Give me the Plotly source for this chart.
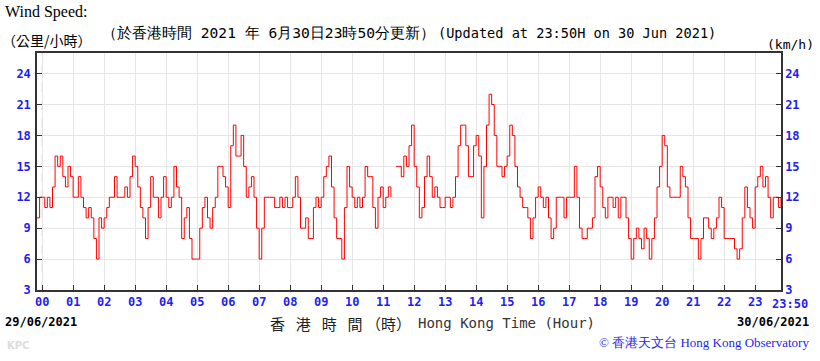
import plotly.graph_objects as go

# 5-minute readings (km/h) from 23:50 (previous day) to 23:50
pre = [10, 12]
h00 = [12, 11, 12, 11, 13, 16, 15, 16, 14, 13, 15, 14]
h01 = [12, 12, 14, 12, 11, 10, 11, 10, 8, 6, 10, 9]
h02 = [10, 11, 12, 12, 14, 12, 12, 12, 13, 12, 14, 16]
h03 = [15, 13, 11, 10, 8, 11, 14, 12, 12, 10, 12, 14]
h04 = [12, 11, 12, 15, 13, 12, 8, 10, 11, 8, 6, 6]
h05 = [6, 9, 11, 12, 10, 9, 11, 12, 15, 15, 14, 13]
h06 = [11, 17, 19, 16, 16, 18, 15, 12, 13, 14, 12, 9]
h07 = [6, 9, 12, 12, 12, 12, 11, 11, 12, 11, 12, 11]
h08 = [11, 12, 14, 12, 9, 9, 10, 8, 8, 11, 12, 11]
h09 = [12, 14, 15, 16, 13, 10, 8, 8, 6, 11, 15, 13]
h10 = [12, 11, 12, 11, 12, 15, 14, 14, 11, 9, 12, 13]
h11 = [11, 12, 13, 12, None, 15, 15, 14, 16, 15, 17, 19]
h12 = [15, 13, 10, 11, 14, 16, 14, 12, 13, 12, 11, 11]
h13 = [12, 12, 11, 12, 14, 17, 19, 19, 17, 14, 14, 17]
h14 = [18, 16, 10, 15, 19, 22, 21, 18, 15, 15, 14, 15]
h15 = [16, 19, 18, 15, 13, 12, 11, 11, 10, 8, 10, 12]
h16 = [13, 12, 11, 12, 10, 8, 9, 12, 12, 12, 10, 12]
h17 = [12, 12, 15, 12, 9, 8, 8, 9, 9, 10, 14, 15]
h18 = [13, 11, 10, 12, 12, 11, 12, 10, 12, 12, 10, 8]
h19 = [6, 8, 9, 8, 7, 9, 8, 6, 8, 10, 13, 15]
h20 = [18, 17, 13, 12, 12, 12, 12, 15, 14, 13, 10, 8]
h21 = [8, 8, 6, 8, 10, 10, 9, 8, 9, 10, 12, 11]
h22 = [8, 8, 8, 8, 7, 6, 7, 10, 13, 11, 10, 9]
h23 = [13, 14, 15, 13, 14, 12, 10, 12, 12, 11, 12]

wind = (pre + h00 + h01 + h02 + h03 + h04 + h05 + h06 + h07 + h08 + h09 + h10 + h11
        + h12 + h13 + h14 + h15 + h16 + h17 + h18 + h19 + h20 + h21 + h22 + h23)
minutes = list(range(-10, 1431, 5))  # minutes after 00:00

hour_ticks = list(range(0, 1440, 60))
hour_labels = ["%02d" % h for h in range(24)]
y_ticks = [3, 6, 9, 12, 15, 18, 21, 24]

W, H = 820, 361
L, R, T, B = 37, 39, 53, 71
pw, ph = W - L - R, H - T - B

def px(x):
    return (x - L) / pw

def py(y):
    return (H - B - y) / ph

BLUE = "#1f1fee"
fig = go.Figure()
fig.add_trace(go.Scatter(x=minutes, y=wind, mode="lines", line=dict(color="#ff0000", width=1, shape="hv"),
                         connectgaps=False, hoverinfo="skip", showlegend=False))
fig.add_trace(go.Scatter(x=minutes, y=wind, yaxis="y2", mode="lines", line=dict(color="rgba(0,0,0,0)", width=0),
                         hoverinfo="skip", showlegend=False))

tickfont = dict(family="DejaVu Sans Mono", size=12, color=BLUE, weight="bold")
fig.update_layout(
    width=W, height=H, margin=dict(l=L, r=R, t=T, b=B, autoexpand=False),
    paper_bgcolor="white", plot_bgcolor="white",
    xaxis=dict(range=[-10, 1430], tickvals=hour_ticks, ticktext=hour_labels, showgrid=True,
               gridcolor="#e6e6e6", gridwidth=1, ticks="inside", ticklen=5, tickcolor="#333",
               showline=True, linecolor="#333", linewidth=1.5, mirror=True, zeroline=False,
               tickfont=tickfont),
    yaxis=dict(range=[3, 26], tickvals=y_ticks, showgrid=True, gridcolor="#e6e6e6", gridwidth=1,
               ticks="inside", ticklen=5, tickcolor="#333", showline=True, linecolor="#333",
               linewidth=1.5, zeroline=False, tickfont=tickfont, ticklabelstandoff=2),
    yaxis2=dict(range=[3, 26], tickvals=y_ticks, overlaying="y", side="right", showgrid=False,
                ticks="inside", ticklen=5, tickcolor="#333", showline=True, linecolor="#333",
                linewidth=1.5, zeroline=False, tickfont=tickfont),
)

fig.add_shape(type="line", x0=0, x1=0, y0=0, y1=1, xref="x", yref="paper",
              line=dict(color="white", width=1.5), layer="below")
fig.add_shape(type="line", x0=0, x1=0, y0=0, y1=1, xref="x", yref="paper",
              line=dict(color="#d0d0d0", width=1, dash="dash"), layer="below")

def ann(text, x, y, xanchor="left", font=None):
    fig.add_annotation(text=text, x=px(x), y=py(y), xref="paper", yref="paper",
                       xanchor=xanchor, yanchor="middle", showarrow=False, font=font)

ann("Wind Speed:", 3, 12, font=dict(family="Liberation Serif", size=16, color="black"))
ann("（公里/小時）", 0, 40, font=dict(family="Noto Sans CJK TC", size=14, color="black"))
ann("（於香港時間 2021 年 6月30日23時50分更新）", 100, 33,
    font=dict(family="DejaVu Sans Mono", size=14.6, color="black"))
ann("(Updated at 23:50H on 30 Jun 2021)", 436, 33,
    font=dict(family="DejaVu Sans Mono", size=13.6, color="black"))
ann("(km/h)", 816, 45, xanchor="right", font=dict(family="DejaVu Sans Mono", size=13, color="black"))
ann("23:50", 810, 304, xanchor="right", font=tickfont)
ann("29/06/2021", 3, 322, font=dict(family="DejaVu Sans Mono", size=12, color="black", weight="bold"))
ann("30/06/2021", 811, 322, xanchor="right", font=dict(family="DejaVu Sans Mono", size=12, color="black", weight="bold"))
ann("香\u2002 港\u2002 時\u2002 間 （時）", 268, 323, font=dict(family="Noto Sans CJK TC", size=15, color="#222"))
ann("Hong Kong Time (Hour)", 416, 323, font=dict(family="DejaVu Sans Mono", size=14, color="#333"))
ann("© 香港天文台 Hong Kong Observatory", 811, 342, xanchor="right",
    font=dict(family="Liberation Serif", size=13, color=BLUE))
ann("KPC", 5, 345, font=dict(family="DejaVu Sans", size=10, color="#dddddd", weight="bold"))

fig.write_html("out.html", config={"displayModeBar": False})
with open("out.html", "r", encoding="utf-8") as f:
    html = f.read()
html = html.replace("<head>", "<head><style>html,body{margin:0;padding:0;overflow:hidden;}</style>", 1)
with open("out.html", "w", encoding="utf-8") as f:
    f.write(html)
